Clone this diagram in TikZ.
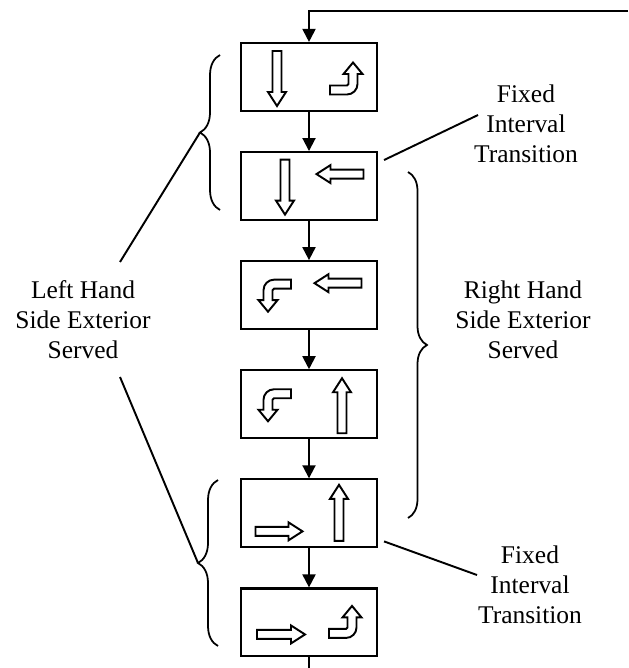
\documentclass[tikz,border=0pt]{standalone}
\usepackage{fontspec}
\setmainfont{Liberation Serif}
\usetikzlibrary{
  positioning,
  arrows.meta,
  calc,
  decorations.pathreplacing
}

\begin{document}
\begin{tikzpicture}[
  x=0.02cm, y=-0.02cm,
  phase/.style={draw, line width=1.2pt, minimum width=2.72cm, minimum height=1.36cm, inner sep=0pt},
  flow/.style={-{Triangle[length=0.26cm, width=0.26cm]}, line width=1.1pt},
  lead/.style={line width=1.1pt},
  curly/.style={decorate, decoration={brace, amplitude=#1}, line width=1pt},
  note/.style={align=center, font=\fontsize{14.5}{17}\selectfont, inner sep=0pt},
  icon/.style={line width=1.1pt, fill=white, line join=miter},
  flatarrow/.pic={
    \draw[icon] ({-#1/2},-4.5) -- ({#1/2-14},-4.5) -- ({#1/2-14},-9) -- ({#1/2},0)
      -- ({#1/2-14},9) -- ({#1/2-14},4.5) -- ({-#1/2},4.5) -- cycle;
  },
  turnarrow/.pic={
    \draw[icon] (16,-15.5) -- (-1,-15.5) arc[start angle=270, end angle=180, radius=10.5]
      -- (-11.5,5) -- (-16.5,5) -- (-7,16.5) -- (2.5,5) -- (-2.5,5) -- (-2.5,-5)
      arc[start angle=180, end angle=270, radius=1.5] -- (16,-6.5) -- cycle;
  }
]
  \useasboundingbox (0,0) rectangle (628,668);

  % signal phases
  \node[phase] (p1) at (309,77) {};
  \node[phase, below=0.78cm of p1] (p2) {};
  \node[phase, below=0.78cm of p2] (p3) {};
  \node[phase, below=0.78cm of p3] (p4) {};
  \node[phase, below=0.78cm of p4] (p5) {};
  \node[phase, below=0.78cm of p5] (p6) {};

  \pic[rotate=-90] at ($(p1)+(-32,1.5)$) {flatarrow=55};
  \pic[rotate=180] at ($(p1)+(37,2)$) {turnarrow};
  \pic[rotate=-90] at ($(p2)+(-24,1)$) {flatarrow=55};
  \pic[rotate=180] at ($(p2)+(31,-12)$) {flatarrow=47};
  \pic at ($(p3)+(-34,0)$) {turnarrow};
  \pic[rotate=180] at ($(p3)+(29,-12)$) {flatarrow=47};
  \pic at ($(p4)+(-34,0.5)$) {turnarrow};
  \pic[rotate=90] at ($(p4)+(33,1.5)$) {flatarrow=55};
  \pic at ($(p5)+(-30,18)$) {flatarrow=47};
  \pic[rotate=90] at ($(p5)+(30,-0.5)$) {flatarrow=56};
  \pic at ($(p6)+(-28,12)$) {flatarrow=48};
  \pic[rotate=180] at ($(p6)+(36,0)$) {turnarrow};

  % cycle
  \coordinate (feed) at (628,11);
  \coordinate (exit) at (309,668);
  \draw[flow] (feed) -| (p1);
  \foreach \a/\b in {p1/p2, p2/p3, p3/p4, p4/p5, p5/p6}
    \draw[flow] (\a) -- (\b);
  \draw[lead] (p6) -- (exit);

  % braces
  \coordinate (l1a) at (220,210);
  \coordinate (l1b) at (220,55);
  \coordinate (l2a) at (218,646);
  \coordinate (l2b) at (218,480);
  \coordinate (r1a) at (408,172);
  \coordinate (r1b) at (408,518);
  \draw[curly=0.4cm] (l1a) -- (l1b);
  \draw[curly=0.4cm] (l2a) -- (l2b);
  \draw[curly=0.38cm] (r1a) -- (r1b);
  \coordinate (l1tip) at ($(l1a)!0.5!(l1b)+(-20,0)$);
  \coordinate (l2tip) at ($(l2a)!0.5!(l2b)+(-20,0)$);

  % labels
  \node[note] (fit1) at (526,124) {Fixed\\Interval\\Transition};
  \node[note] (fit2) at (530,585) {Fixed\\Interval\\Transition};
  \node[note] (lhs) at (83,320) {Left Hand\\Side Exterior\\Served};
  \node[note] (rhs) at (523,320) {Right Hand\\Side Exterior\\Served};

  \draw[lead] ($(p2.north east)+(6,9)$) -- ($(fit1)+(-48,-9)$);
  \draw[lead] ($(p5.south east)+(6,-7)$) -- ($(fit2)+(-53,-10)$);
  \draw[lead] ($(lhs)+(37,-58)$) -- (l1tip);
  \draw[lead] ($(lhs)+(37,57)$) -- (l2tip);
\end{tikzpicture}
\end{document}
